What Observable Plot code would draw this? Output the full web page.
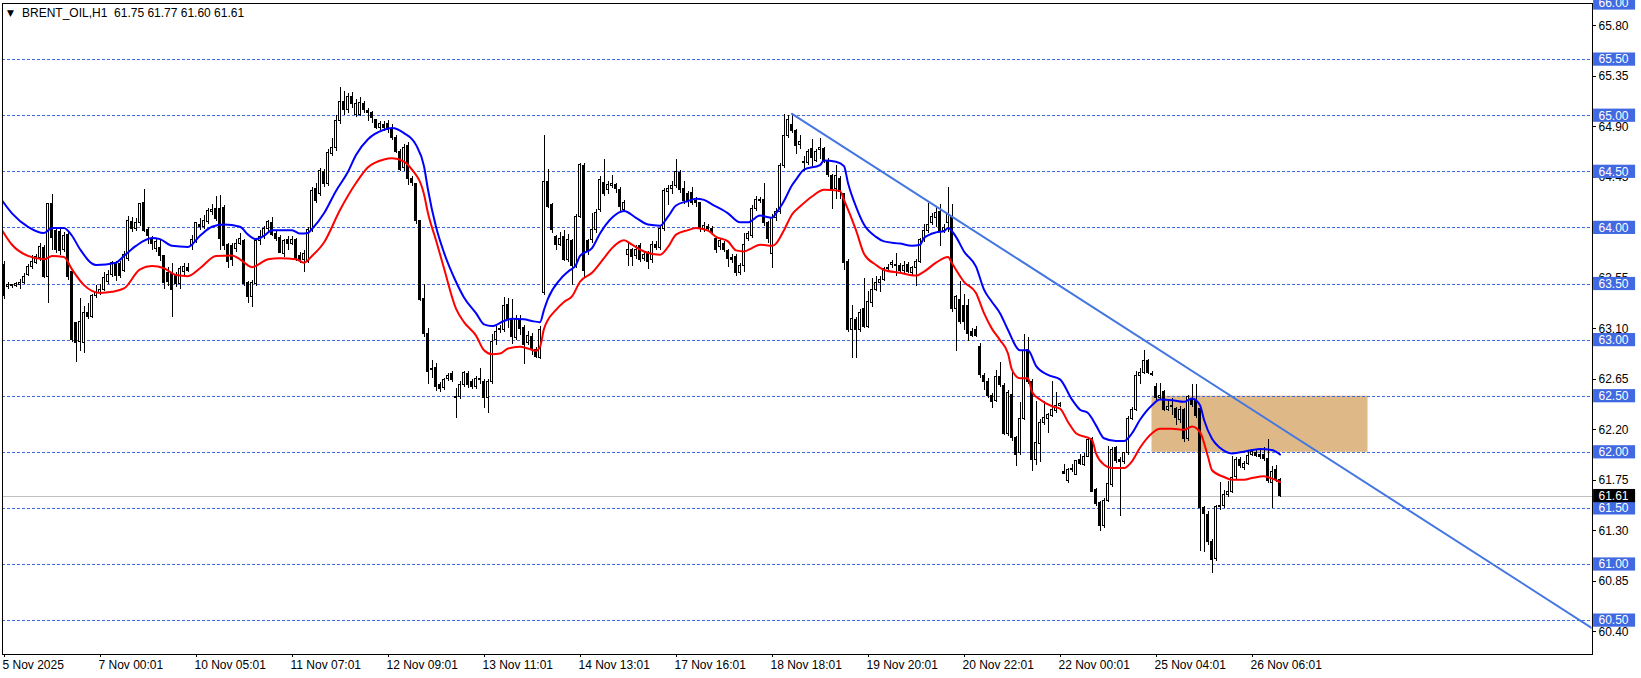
<!DOCTYPE html>
<html><head><meta charset="utf-8">
<script src="https://cdn.jsdelivr.net/npm/d3@7"></script>
<script src="https://cdn.jsdelivr.net/npm/@observablehq/plot@0.6"></script>
<style>html,body{margin:0;padding:0;background:#fff;overflow:hidden}svg{display:block}</style>
</head><body><div id="chart"></div>
<script>
const symbol = "BRENT_OIL", timeframe = "H1";
const lastOHLC = ["61.75", "61.77", "61.60", "61.61"];

const open = [
63.67,63.47,63.48,63.48,63.49,63.51,63.58,63.65,63.69,63.73,
63.82,63.56,64.21,63.97,63.96,63.80,63.94,63.61,63.15,62.98,
62.97,63.24,63.21,63.39,63.42,63.45,63.52,63.58,63.69,63.68,
63.62,63.72,64.05,63.99,64.04,64.22,63.98,63.90,63.81,63.82,
63.75,63.60,63.59,63.57,63.50,63.61,63.64,63.84,63.88,64.03,
64.01,64.05,64.14,64.17,64.17,64.18,63.85,63.84,63.81,63.86,
63.88,63.51,63.38,63.50,63.88,63.92,63.99,64.04,63.95,63.91,
63.77,63.89,63.86,63.89,63.75,63.71,63.70,63.98,64.35,64.30,
64.50,64.39,64.66,64.71,64.95,65.12,65.05,65.17,65.01,65.01,
65.10,65.04,65.02,64.96,64.89,64.92,64.93,64.88,64.80,64.68,
64.53,64.73,64.44,64.39,64.06,63.37,63.05,62.74,62.75,62.60,
62.57,62.65,62.70,62.49,62.49,62.60,62.70,62.63,62.58,62.65,
62.63,62.48,62.63,63.00,63.09,63.09,63.31,63.18,63.02,63.18,
63.11,62.97,63.03,62.91,62.84,63.42,64.41,64.20,63.92,63.85,
63.92,63.71,63.88,63.66,64.10,64.55,63.88,63.89,63.98,64.16,
64.40,64.34,64.37,64.38,64.34,64.16,63.76,63.80,63.75,63.84,
63.72,63.77,63.71,63.85,63.82,63.99,64.32,64.35,64.37,64.49,
64.35,64.30,64.31,64.24,64.22,63.99,64.01,63.99,63.90,63.83,
63.86,63.79,63.73,63.74,63.60,63.66,63.90,63.93,64.17,64.25,
64.25,64.04,63.77,64.09,64.14,64.55,64.82,64.92,64.86,64.74,
64.58,64.58,64.70,64.60,64.69,64.70,64.59,64.46,64.35,64.44,
64.30,63.70,63.09,63.18,63.09,63.28,63.12,63.33,63.45,63.51,
63.54,63.63,63.67,63.67,63.66,63.62,63.67,63.60,63.64,63.70,
63.89,63.97,64.04,64.09,64.14,63.97,64.04,64.10,63.28,63.36,
63.30,63.30,63.07,63.09,62.94,62.68,62.63,62.50,62.46,62.67,
62.59,62.16,62.51,62.13,61.99,62.30,62.91,62.63,61.93,62.07,
62.26,62.30,62.32,62.37,62.41,61.82,61.74,61.85,61.80,61.93,
61.89,61.96,62.12,61.66,61.55,61.34,61.57,61.71,62.04,61.93,
61.91,61.99,62.30,62.38,62.68,62.71,62.81,62.70,62.58,62.48,
62.54,62.38,62.41,62.39,62.29,62.38,62.12,62.47,62.46,62.39,
61.50,61.44,61.20,61.05,61.51,61.52,61.62,61.65,61.78,61.93,
61.86,61.90,61.98,61.99,61.98,61.98,61.94,61.73,61.84,61.75];

const high = [
63.70,63.51,63.50,63.51,63.54,63.59,63.67,63.75,63.76,63.86,
63.84,64.22,64.30,64.00,63.99,63.96,63.96,63.63,63.16,63.37,
63.30,63.33,63.41,63.49,63.50,63.60,63.62,63.70,63.70,63.70,
63.79,64.10,64.09,64.08,64.22,64.34,64.00,63.92,63.90,63.90,
63.75,63.65,63.68,63.60,63.66,63.68,63.68,63.93,64.05,64.08,
64.11,64.17,64.21,64.28,64.29,64.20,63.86,63.86,63.90,63.95,
63.90,63.52,63.53,63.90,63.98,64.01,64.07,64.09,63.97,63.93,
63.90,63.92,63.92,63.91,63.78,63.80,64.00,64.36,64.40,64.53,
64.52,64.70,64.80,65.00,65.25,65.22,65.20,65.21,65.14,65.16,
65.13,65.06,65.04,64.97,64.95,64.95,64.96,64.92,64.82,64.70,
64.74,64.76,64.46,64.40,64.07,63.50,63.10,62.82,62.79,62.62,
62.66,62.70,62.72,62.57,62.63,62.72,62.72,62.65,62.68,62.75,
62.65,62.65,63.05,63.12,63.13,63.38,63.37,63.36,63.22,63.22,
63.13,63.08,63.06,62.93,63.12,64.82,64.52,64.22,63.93,63.96,
63.98,63.94,63.90,64.12,64.57,64.57,63.90,64.13,64.16,64.46,
64.61,64.41,64.47,64.40,64.36,64.24,63.87,63.82,63.84,63.86,
63.79,63.79,63.88,63.88,64.02,64.35,64.38,64.41,64.61,64.51,
64.41,64.32,64.36,64.27,64.23,64.05,64.03,64.01,63.92,63.90,
63.88,63.81,63.76,63.76,63.68,63.95,63.97,64.20,64.28,64.27,
64.40,64.06,64.12,64.17,64.57,65.01,65.00,65.01,64.88,64.82,
64.64,64.70,64.79,64.70,64.80,64.72,64.62,64.48,64.56,64.46,
64.31,63.72,63.31,63.20,63.27,63.55,63.43,63.55,63.57,63.57,
63.65,63.67,63.71,63.77,63.68,63.70,63.69,63.66,63.72,63.91,
64.03,64.22,64.13,64.19,64.21,64.03,64.36,64.21,63.40,63.52,
63.41,63.36,63.10,63.12,62.97,62.70,62.66,62.52,62.73,62.80,
62.61,62.55,62.72,62.14,62.44,63.05,63.02,62.65,62.45,62.29,
62.45,62.35,62.63,62.53,62.44,61.89,61.86,61.89,61.93,61.98,
61.99,62.13,62.13,61.68,61.56,61.59,62.05,62.04,62.05,61.95,
62.00,62.32,62.40,62.72,62.75,62.91,62.83,62.72,62.61,62.61,
62.55,62.45,62.48,62.40,62.41,62.39,62.51,62.60,62.60,62.40,
61.52,61.47,61.22,61.53,61.73,61.66,61.74,61.96,61.95,61.95,
61.92,62.02,62.02,62.02,62.03,62.04,62.11,61.87,61.88,61.77];

const low = [
63.36,63.45,63.46,63.47,63.45,63.50,63.57,63.63,63.67,63.70,
63.55,63.33,63.80,63.77,63.75,63.78,63.53,62.98,62.80,62.90,
62.88,63.18,63.19,63.37,63.40,63.43,63.50,63.56,63.52,63.55,
63.60,63.70,63.96,63.97,64.01,63.96,63.85,63.80,63.78,63.70,
63.45,63.48,63.20,63.47,63.45,63.57,63.60,63.80,63.86,63.98,
63.99,64.03,64.11,64.06,63.80,63.80,63.64,63.66,63.78,63.84,
63.48,63.33,63.29,63.48,63.84,63.90,63.96,63.92,63.88,63.77,
63.74,63.80,63.84,63.70,63.68,63.60,63.68,63.96,64.22,64.28,
64.36,64.37,64.64,64.68,64.92,65.00,65.02,65.06,64.98,64.99,
65.02,64.95,64.93,64.88,64.87,64.86,64.84,64.78,64.66,64.50,
64.50,64.38,64.37,64.03,63.34,63.02,62.60,62.66,62.54,62.53,
62.55,62.63,62.62,62.30,62.47,62.58,62.57,62.56,62.56,62.60,
62.39,62.35,62.60,62.95,63.06,63.07,63.10,62.96,63.00,63.04,
62.78,62.95,62.86,62.84,62.83,63.40,64.17,63.95,63.80,63.83,
63.70,63.69,63.49,63.64,64.08,63.55,63.75,63.86,63.95,64.14,
64.28,64.30,64.35,64.31,64.15,64.14,63.66,63.66,63.72,63.69,
63.70,63.63,63.68,63.80,63.80,63.97,64.20,64.30,64.35,64.31,
64.21,64.18,64.20,64.18,63.96,63.96,63.97,63.93,63.77,63.80,
63.78,63.65,63.68,63.57,63.58,63.60,63.88,63.91,64.15,64.22,
64.01,63.86,63.64,64.06,64.12,64.53,64.80,64.84,64.65,64.70,
64.50,64.56,64.55,64.58,64.61,64.57,64.45,64.16,64.25,64.25,
63.62,63.07,62.84,62.84,63.07,63.10,63.10,63.29,63.43,63.42,
63.52,63.61,63.64,63.57,63.60,63.59,63.59,63.58,63.48,63.68,
63.87,63.95,64.02,64.00,63.83,63.95,63.96,63.25,62.90,63.14,
63.09,62.99,63.02,63.02,62.66,62.55,62.48,62.39,62.44,62.58,
62.15,62.14,62.10,61.87,61.97,62.28,62.60,61.83,61.88,61.91,
62.24,62.17,62.31,62.35,62.40,61.81,61.72,61.82,61.79,61.88,
61.87,61.95,61.64,61.52,61.29,61.32,61.55,61.69,61.90,61.43,
61.89,61.97,62.28,62.36,62.60,62.69,62.69,62.68,62.46,62.46,
62.36,62.36,62.33,62.24,62.26,62.09,62.10,62.40,62.30,61.12,
61.11,61.17,60.92,61.03,61.48,61.50,61.60,61.63,61.76,61.86,
61.84,61.88,61.96,61.95,61.94,61.92,61.72,61.50,61.73,61.60];

const close = [
63.39,63.49,63.49,63.50,63.51,63.56,63.65,63.70,63.74,63.83,
63.56,64.21,63.91,63.80,63.79,63.93,63.56,63.00,62.97,63.16,
63.24,63.21,63.39,63.42,63.45,63.55,63.58,63.69,63.57,63.57,
63.76,64.06,63.99,64.04,64.21,63.97,63.93,63.86,63.87,63.75,
63.51,63.52,63.45,63.50,63.63,63.65,63.62,63.89,64.04,64.01,
64.06,64.15,64.16,64.08,63.90,63.84,63.70,63.71,63.86,63.90,
63.50,63.38,63.51,63.88,63.92,63.99,64.05,63.94,63.90,63.78,
63.88,63.86,63.89,63.72,63.71,63.77,63.98,64.33,64.24,64.51,
64.39,64.67,64.71,64.95,65.12,65.05,65.17,65.10,65.10,65.11,
65.05,65.02,64.98,64.89,64.93,64.89,64.87,64.80,64.68,64.52,
64.71,64.44,64.40,64.06,63.36,63.05,62.72,62.73,62.58,62.56,
62.64,62.68,62.64,62.48,62.60,62.71,62.60,62.58,62.65,62.64,
62.48,62.63,62.98,63.07,63.10,63.30,63.18,63.03,63.18,63.10,
62.96,63.04,62.91,62.85,63.09,64.41,64.19,63.98,63.85,63.90,
63.71,63.89,63.66,64.10,64.56,63.62,63.79,63.98,64.13,64.43,
64.30,64.38,64.39,64.35,64.19,64.22,63.80,63.74,63.80,63.71,
63.76,63.70,63.85,63.82,63.99,64.33,64.35,64.37,64.50,64.34,
64.24,64.24,64.22,64.22,63.99,64.02,63.99,63.96,63.80,63.88,
63.80,63.72,63.71,63.60,63.66,63.85,63.95,64.17,64.25,64.24,
64.04,63.90,64.09,64.14,64.55,64.82,64.96,64.86,64.73,64.77,
64.59,64.68,64.62,64.68,64.71,64.59,64.47,64.34,64.46,64.32,
63.69,63.09,63.19,63.09,63.24,63.12,63.34,63.45,63.51,63.54,
63.63,63.64,63.69,63.66,63.62,63.66,63.61,63.64,63.70,63.89,
63.97,64.03,64.10,64.13,63.97,64.00,64.12,63.28,63.38,63.16,
63.16,63.05,63.04,63.04,62.69,62.63,62.50,62.45,62.67,62.60,
62.16,62.53,62.13,61.98,62.30,62.90,62.63,61.93,62.08,62.26,
62.31,62.33,62.38,62.41,62.43,61.81,61.84,61.84,61.92,61.90,
61.96,62.11,61.65,61.54,61.34,61.57,61.72,62.02,61.92,61.91,
61.99,62.30,62.38,62.68,62.71,62.81,62.71,62.69,62.48,62.50,
62.38,62.40,62.40,62.31,62.38,62.12,62.49,62.42,62.32,61.50,
61.45,61.20,61.04,61.51,61.52,61.62,61.65,61.77,61.93,61.88,
61.90,61.97,62.00,61.97,61.96,61.94,61.74,61.82,61.75,61.61];

// moving-average lines (bar index, price)
const blueBars = [-1,2,6,10,12,15,17,19,23,28,30,33,37,39,42,46,49,52,55,59,61,63,65,67,72,74,76,77,80,83,86,88,91,95,97,100,103,105,106,108,110,113,115,118,120,122,125,127,130,132,134,135,136,139,141,143,144,147,149,152,155,158,161,164,166,168,171,173,175,177,181,184,186,189,192,193,195,197,198,200,204,205,208,210,211,213,215,218,220,224,227,229,230,233,235,236,238,240,243,245,247,249,251,254,256,258,261,264,267,269,271,273,275,278,280,282,284,287,289,292,295,297,299,300,302,304,307,309,312,314,317,319];
const blueVals = [64.27,64.13,64.01,63.955,64.0,64.0,63.93,63.81,63.67,63.69,63.75,63.84,63.91,63.90,63.84,63.83,63.93,64.01,64.03,64.01,63.94,63.90,63.93,63.98,63.98,63.95,63.955,63.99,64.13,64.33,64.50,64.65,64.79,64.875,64.89,64.845,64.74,64.55,64.34,64.01,63.78,63.52,63.38,63.24,63.14,63.125,63.17,63.19,63.185,63.17,63.16,63.27,63.37,63.54,63.61,63.67,63.75,63.82,63.95,64.09,64.15,64.09,64.03,64.02,64.10,64.20,64.24,64.26,64.25,64.21,64.13,64.05,64.05,64.11,64.09,64.13,64.24,64.38,64.43,64.52,64.56,64.60,64.59,64.55,64.40,64.19,64.03,63.92,63.88,63.86,63.84,63.85,63.91,63.96,63.97,64.00,63.92,63.79,63.655,63.45,63.34,63.24,63.09,62.91,62.91,62.77,62.69,62.65,62.47,62.38,62.35,62.24,62.125,62.10,62.10,62.17,62.29,62.42,62.47,62.464,62.45,62.48,62.42,62.29,62.12,62.04,61.99,62.0,62.02,62.03,62.02,61.98];
const redBars = [-1,2,6,10,12,15,17,20,24,27,30,34,37,40,43,46,49,53,57,59,62,66,69,73,75,77,80,84,88,91,95,97,100,102,105,106,108,110,113,115,118,120,122,124,126,129,131,133,134,135,138,140,142,144,147,150,152,155,157,160,164,166,168,171,173,176,178,181,183,185,187,189,192,193,195,197,199,202,205,209,210,213,215,218,220,224,228,230,233,236,237,240,243,245,247,249,251,252,254,256,257,259,262,264,266,268,272,273,275,277,280,282,284,287,289,292,295,297,299,301,302,305,307,310,312,315,317,319];
const redVals = [64.01,63.85,63.75,63.72,63.75,63.74,63.63,63.49,63.42,63.43,63.46,63.63,63.66,63.64,63.58,63.57,63.64,63.75,63.755,63.72,63.65,63.72,63.73,63.72,63.69,63.75,63.87,64.16,64.40,64.54,64.61,64.62,64.59,64.52,64.30,64.13,63.89,63.64,63.28,63.16,63.04,62.91,62.875,62.88,62.925,62.94,62.925,62.905,62.94,63.10,63.27,63.34,63.39,63.52,63.60,63.73,63.82,63.89,63.85,63.79,63.76,63.83,63.94,63.98,64.00,63.975,63.92,63.88,63.80,63.79,63.82,63.85,63.84,63.86,63.98,64.12,64.19,64.28,64.34,64.33,64.25,63.98,63.77,63.67,63.625,63.60,63.575,63.61,63.69,63.74,63.685,63.52,63.42,63.24,63.10,63.0,62.88,62.735,62.66,62.66,62.54,62.47,62.41,62.39,62.27,62.17,62.11,61.99,61.89,61.86,61.86,61.92,62.04,62.17,62.21,62.21,62.20,62.23,62.18,61.96,61.84,61.78,61.756,61.756,61.77,61.786,61.765,61.735];

const levels = [66.0,65.5,65.0,64.5,64.0,63.5,63.0,62.5,62.0,61.5,61.0,60.5];
const priceTicks = [65.80,65.35,64.90,64.45,64.00,63.55,63.10,62.65,62.20,61.75,61.30,60.85,60.40];
const timeTickBars = [0,24,48,72,96,120,144,168,192,216,240,264,288,312];
const timeTickLabels = ["5 Nov 2025","7 Nov 00:01","10 Nov 05:01","11 Nov 07:01","12 Nov 09:01","13 Nov 11:01","14 Nov 13:01","17 Nov 16:01","18 Nov 18:01","19 Nov 20:01","20 Nov 22:01","22 Nov 00:01","25 Nov 04:01","26 Nov 06:01"];
const lastPrice = 61.61;
const zoneBars = [287, 341], zonePrices = [62.0, 62.5];
const trendBars = [197, 397], trendPrices = [65.017, 60.433];

// ---- build ----
const bars = open.map((o, i) => ({i, o, h: high[i], l: low[i], c: close[i]}));
const bull = bars.filter(d => d.c >= d.o), bear = bars.filter(d => d.c < d.o);
const blue = blueBars.map((b, k) => ({b, v: blueVals[k]}));
const red = redBars.map((b, k) => ({b, v: redVals[k]}));
const trend = trendBars.map((b, k) => ({b, v: trendPrices[k]}));
const zone = [{x1: zoneBars[0], x2: zoneBars[1], y1: zonePrices[0], y2: zonePrices[1]}];

const xMin = -0.375, xMax = 397;
const yMin = 60.2023, yMax = 66.0045;
const pxPerPrice = 112.2;        // vertical scale density
const halfBox = 6.6 / pxPerPrice; // label box half height in price units
const title = `${symbol},${timeframe}\u00A0\u00A0${lastOHLC.join(" ")}`;
const gridBlue = "#3F67E0";

const chart = Plot.plot({
  width: 1641, height: 678,
  marginLeft: 2, marginRight: 49.5, marginTop: 2.5, marginBottom: 24.5,
  x: {type: "linear", domain: [xMin, xMax], axis: null},
  y: {type: "linear", domain: [yMin, yMax], axis: null},
  style: {background: "white", fontFamily: "'Liberation Sans', Arial, sans-serif", fontSize: "12px", color: "black"},
  marks: [
    Plot.rect(zone, {x1: "x1", x2: "x2", y1: "y1", y2: "y2", fill: "#DEB887"}),
    Plot.ruleY(levels, {stroke: gridBlue, strokeDasharray: "3,2", shapeRendering: "crispEdges"}),
    Plot.ruleY([lastPrice], {stroke: "#C0C0C0", shapeRendering: "crispEdges"}),
    Plot.ruleX(bars, {x: "i", y1: "l", y2: "h", stroke: "black", shapeRendering: "crispEdges"}),
    Plot.rect(bull, {x1: d => d.i - 0.25, x2: d => d.i + 0.25, y1: "o", y2: "c", fill: "white", stroke: "black", shapeRendering: "crispEdges"}),
    Plot.rect(bear, {x1: d => d.i - 0.25, x2: d => d.i + 0.25, y1: "c", y2: "o", fill: "black", stroke: "black", shapeRendering: "crispEdges"}),
    Plot.line(red, {x: "b", y: "v", stroke: "#FF0000", strokeWidth: 2, curve: "monotone-x", clip: true}),
    Plot.line(blue, {x: "b", y: "v", stroke: "#0000FF", strokeWidth: 2, curve: "monotone-x", clip: true}),
    Plot.line(trend, {x: "b", y: "v", stroke: "#4477E0", strokeWidth: 2, clip: true}),
    Plot.frame({stroke: "black", shapeRendering: "crispEdges"}),
    // right price axis
    Plot.ruleY(priceTicks, {x1: xMax, x2: xMax + 1, stroke: "black", shapeRendering: "crispEdges"}),
    Plot.text(priceTicks, {x: xMax, y: d => d, text: d => d.toFixed(2), textAnchor: "start", dx: 6.5, fill: "black"}),
    Plot.rect(levels, {x1: xMax + 0.4, x2: xMax + 10.9, y1: d => d - halfBox, y2: d => d + halfBox, fill: "#4169E1"}),
    Plot.text(levels, {x: xMax, y: d => d, text: d => d.toFixed(2), textAnchor: "start", dx: 6.5, fill: "white"}),
    Plot.rect([lastPrice], {x1: xMax + 0.4, x2: xMax + 10.9, y1: d => d - halfBox, y2: d => d + halfBox, fill: "black"}),
    Plot.text([lastPrice], {x: xMax, y: d => d, text: d => d.toFixed(2), textAnchor: "start", dx: 6.5, fill: "white"}),
    // time axis
    Plot.ruleX(timeTickBars, {x: d => d, y1: yMin, y2: yMin - 4 / pxPerPrice, stroke: "black", shapeRendering: "crispEdges"}),
    Plot.text(timeTickBars, {x: d => d, frameAnchor: "bottom", lineAnchor: "middle", dy: 11.5, dx: -1.5, textAnchor: "start", text: (d, k) => timeTickLabels[k], fill: "black"}),
    // title
    Plot.text(["\u25BC"], {frameAnchor: "top-left", lineAnchor: "middle", textAnchor: "start", dx: 4.5, dy: 10, fontSize: 9, fontFamily: "DejaVu Sans", fill: "black"}),
    Plot.text([title], {frameAnchor: "top-left", lineAnchor: "middle", textAnchor: "start", dx: 19.5, dy: 10.5, fill: "black"})
  ]
});
document.getElementById("chart").appendChild(chart);
</script>
</body></html>
